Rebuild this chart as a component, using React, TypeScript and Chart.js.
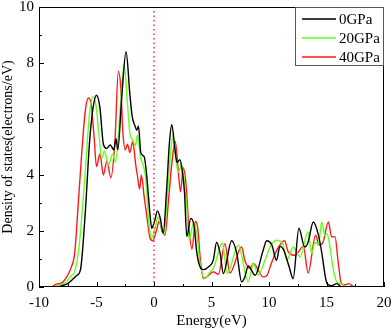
import React, { useEffect, useRef } from "react";
import { Chart, registerables } from "chart.js";
Chart.register(...registerables);

const seriesNames = ["0GPa", "20GPa", "40GPa"];
const seriesColors = ["#000000", "#66ff1a", "#ff1a1a"];

const e0 = [-10, -8.5, -8.0, -7.5, -7.0, -6.7, -6.4, -6.0, -5.6, -5.3, -5.0, -4.7, -4.4, -4.1, -3.8, -3.5, -3.3, -3.15, -2.8, -2.43, -2.1, -1.9, -1.65, -1.5, -1.35, -1.15, -0.85, -0.65, -0.35, -0.2, 0.05, 0.3, 0.55, 0.8, 1.1, 1.35, 1.55, 1.8, 2.0, 2.25, 2.4, 2.65, 2.85, 3.2, 3.5, 3.7, 4.0, 4.3, 4.75, 5.15, 5.45, 5.75, 6.03, 6.75, 7.2, 7.62, 7.9, 8.2, 8.8, 9.45, 9.8, 10.25, 10.65, 10.95, 11.3, 11.75, 12.1, 12.6, 13.1, 13.4, 13.85, 14.3, 14.6, 14.9, 15.05, 15.45, 15.9, 16.3, 18.9];
const d0 = [0, 0, 0.05, 0.12, 0.3, 0.42, 0.6, 2.5, 5.2, 6.4, 6.85, 6.4, 5.1, 4.95, 5.07, 4.9, 5.3, 4.9, 6.8, 8.4, 6.9, 6.1, 5.75, 5.6, 5.75, 4.8, 4.65, 4.05, 2.6, 2.1, 2.35, 2.72, 2.45, 1.92, 3.5, 5.2, 5.8, 5.0, 4.45, 4.55, 4.3, 3.4, 1.8, 2.45, 2.15, 1.3, 0.72, 0.62, 0.72, 0.95, 1.6, 1.2, 0.48, 1.65, 1.2, 0.18, 0.36, 0.75, 0.42, 1.25, 1.65, 1.5, 0.95, 1.45, 1.3, 0.72, 0.3, 2.1, 1.43, 1.6, 2.32, 1.85, 1.19, 0.36, 0.12, 0.05, 0.12, 0, 0];

const e20 = [-10, -8.7, -8.2, -7.7, -7.2, -6.9, -6.5, -6.0, -5.6, -5.3, -5.05, -4.8, -4.55, -4.3, -3.95, -3.6, -3.35, -3.0, -2.6, -2.3, -2.1, -1.85, -1.6, -1.45, -1.15, -0.9, -0.7, -0.45, -0.2, 0.1, 0.35, 0.6, 0.85, 1.15, 1.45, 1.65, 1.9, 2.1, 2.4, 2.6, 2.85, 3.05, 3.45, 3.75, 3.95, 4.43, 4.8, 5.2, 5.94, 6.37, 7.33, 8.2, 8.64, 9.07, 9.6, 10.1, 10.67, 11.2, 11.54, 12.1, 12.7, 13.4, 13.7, 14.0, 14.3, 14.58, 14.87, 15.05, 15.3, 15.6, 15.9, 16.3, 16.6, 17.0, 18.9];
const d20 = [0, 0, 0.08, 0.15, 0.4, 0.55, 1.5, 4.0, 6.2, 6.8, 6.5, 5.5, 4.6, 4.85, 4.35, 4.75, 4.45, 6.0, 7.95, 6.5, 5.5, 5.25, 5.05, 5.42, 4.6, 4.3, 3.8, 2.3, 1.75, 2.1, 2.5, 2.2, 1.88, 3.2, 4.8, 5.45, 4.6, 4.1, 4.35, 3.9, 2.8, 1.7, 2.3, 1.8, 1.0, 0.3, 0.5, 0.7, 1.57, 0.48, 1.49, 0.18, 0.84, 0.42, 0.9, 1.43, 1.67, 1.55, 0.95, 1.43, 1.07, 1.97, 1.2, 1.6, 1.5, 2.32, 1.85, 1.9, 1.43, 0.6, 0.18, 0.1, 0.03, 0, 0];

const e40 = [-10, -9.0, -8.5, -8.0, -7.6, -7.2, -6.9, -6.5, -6.0, -5.7, -5.45, -5.2, -5.0, -4.7, -4.4, -4.1, -3.75, -3.4, -3.1, -2.9, -2.7, -2.5, -2.3, -2.1, -1.85, -1.6, -1.45, -1.25, -1.1, -0.85, -0.55, -0.35, -0.1, 0.2, 0.45, 0.7, 0.95, 1.3, 1.6, 1.85, 2.1, 2.3, 2.55, 2.8, 3.0, 3.3, 3.6, 3.8, 4.05, 4.3, 4.58, 5.16, 5.6, 6.17, 6.6, 7.62, 7.9, 8.35, 8.64, 9.5, 9.8, 10.2, 10.67, 11.35, 11.68, 12.26, 12.99, 13.4, 14.05, 14.35, 14.7, 15.16, 15.45, 15.74, 16.0, 16.3, 16.6, 16.95, 17.4, 18.9];
const d40 = [0, 0, 0.1, 0.15, 0.35, 0.7, 1.2, 3.5, 6.2, 6.75, 6.5, 5.3, 4.3, 4.75, 4.0, 4.5, 3.9, 5.2, 7.7, 7.2, 5.5, 4.9, 5.1, 4.8, 5.2, 4.4, 4.0, 3.5, 4.0, 3.2, 2.3, 1.75, 1.65, 2.0, 2.35, 2.0, 1.85, 3.3, 4.6, 5.2, 4.2, 3.4, 4.25, 3.6, 2.3, 1.35, 2.35, 2.1, 0.9, 0.3, 0.36, 0.54, 0.45, 1.55, 0.5, 1.43, 0.95, 0.66, 0.84, 0.36, 0.4, 0.84, 1.31, 1.65, 1.25, 1.13, 1.45, 0.5, 1.85, 1.5, 1.6, 2.32, 1.79, 1.8, 0.95, 0.12, 0.08, 0.12, 0, 0];

const xTicks = [-10, -5, 0, 5, 10, 15, 20];
const yTicks = [0, 2, 4, 6, 8, 10];
const fermiLine = [0, 10];

const FONT = "'Liberation Serif', 'Times New Roman', serif";

const frameAndLegend = {
  id: "frameAndLegend",
  afterDraw(chart: any) {
    const { ctx, chartArea: a, scales } = chart;
    const xs = scales.x;
    const ys = scales.y;
    ctx.save();
    ctx.strokeStyle = "#000";
    ctx.lineWidth = 1;
    ctx.strokeRect(a.left + 0.5, a.top + 0.5, a.right - a.left - 1, a.bottom - a.top - 1);
    ctx.beginPath();
    for (let v = -10; v <= 20; v += 2.5) {
      const px = Math.round(xs.getPixelForValue(v)) + 0.5;
      const len = v % 5 === 0 ? 5 : 3;
      ctx.moveTo(px, a.bottom);
      ctx.lineTo(px, a.bottom - len);
    }
    for (let v = 0; v <= 10; v += 1) {
      const py = Math.round(ys.getPixelForValue(v)) + 0.5;
      const len = v % 2 === 0 ? 5 : 3;
      ctx.moveTo(a.left, py);
      ctx.lineTo(a.left + len, py);
    }
    ctx.stroke();
    // legend box
    const bx = a.right - 89;
    const by = a.top;
    const bw = 89;
    const bh = 59;
    ctx.fillStyle = "#fff";
    ctx.fillRect(bx, by, bw, bh);
    ctx.strokeStyle = "#555";
    ctx.strokeRect(bx + 0.5, by + 0.5, bw - 1, bh - 1);
    ctx.font = "15px " + FONT;
    ctx.textBaseline = "middle";
    ctx.textAlign = "left";
    seriesNames.forEach((n, i) => {
      const y = by + 12 + i * 19;
      ctx.strokeStyle = seriesColors[i];
      ctx.lineWidth = 1.5;
      ctx.beginPath();
      ctx.moveTo(bx + 7, y);
      ctx.lineTo(bx + 41, y);
      ctx.stroke();
      ctx.fillStyle = "#000";
      ctx.fillText(n, bx + 44, y + 1);
    });
    ctx.restore();
  },
};

export default function App() {
  const ref = useRef<HTMLCanvasElement>(null);
  useEffect(() => {
    document.body.style.margin = "0";
    const mk = (e: number[], d: number[]) => e.map((x, i) => ({ x, y: d[i] }));
    const sets = [mk(e0, d0), mk(e20, d20), mk(e40, d40)];
    const datasets: any[] = [
      {
        label: "fermi",
        data: fermiLine.map((y) => ({ x: 0, y })),
        borderColor: "#ff3333",
        borderWidth: 1.5,
        borderDash: [1.5, 3],
        pointRadius: 0,
      },
    ];
    [0, 1, 2].forEach((i) => {
      datasets.push({
        label: seriesNames[i],
        data: sets[i],
        borderColor: seriesColors[i],
        borderWidth: 1.4,
        pointRadius: 0,
        cubicInterpolationMode: "monotone",
        fill: false,
      });
    });
    const chart = new Chart(ref.current!, {
      type: "line",
      data: { datasets },
      plugins: [frameAndLegend],
      options: {
        animation: false,
        responsive: false,
        layout: { padding: { top: 7, right: 8, left: 0, bottom: 0 } },
        plugins: { legend: { display: false }, tooltip: { enabled: false } },
        scales: {
          x: {
            type: "linear",
            min: -10,
            max: 20,
            afterBuildTicks: (s: any) => {
              s.ticks = xTicks.map((v) => ({ value: v }));
            },
            afterFit: (s: any) => {
              s.height = 43;
              s.paddingLeft = 0;
              s.paddingRight = 0;
            },
            grid: { display: false, drawTicks: false },
            border: { display: false },
            ticks: { color: "#000", font: { family: FONT, size: 15 }, padding: 7, maxRotation: 0 },
            title: { display: true, text: "Energy(eV)", color: "#000", font: { family: FONT, size: 15 }, padding: { top: 1, bottom: 0 } },
          },
          y: {
            type: "linear",
            min: 0,
            max: 10,
            afterBuildTicks: (s: any) => {
              s.ticks = yTicks.map((v) => ({ value: v }));
            },
            afterFit: (s: any) => {
              s.width = 39;
              s.paddingTop = 0;
              s.paddingBottom = 0;
            },
            grid: { display: false, drawTicks: false },
            border: { display: false },
            ticks: { color: "#000", font: { family: FONT, size: 15 }, padding: 5 },
            title: { display: true, text: "Density of states(electrons/eV)", color: "#000", font: { family: FONT, size: 14 }, padding: { top: 0, bottom: 0 } },
          },
        },
      },
    });
    return () => chart.destroy();
  }, []);
  return (
    <div style={{ position: "absolute", left: 0, top: 0, width: 392, height: 330, background: "#fff" }}>
      <canvas ref={ref} width={392} height={330} style={{ width: 392, height: 330 }} />
    </div>
  );
}
